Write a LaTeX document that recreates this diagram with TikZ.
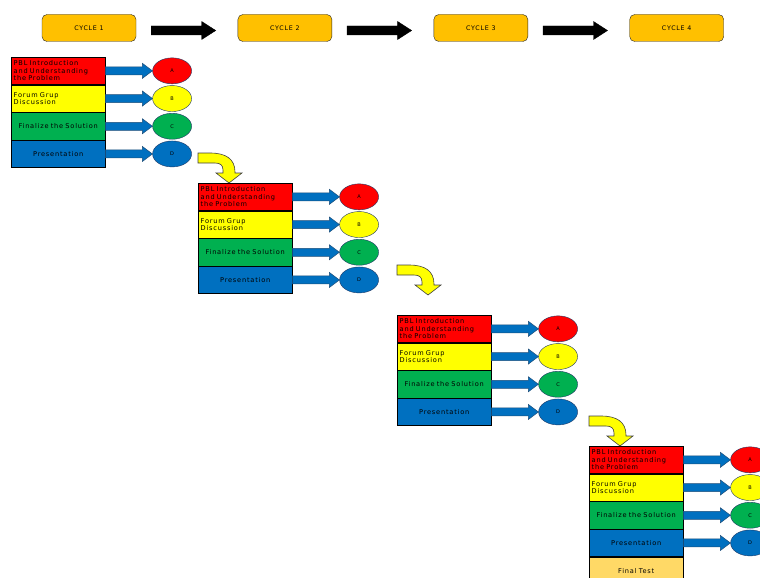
\documentclass[tikz,border=0pt]{standalone}
\usepackage{fontspec}
\usepackage{tikz}
\usetikzlibrary{positioning,shapes.geometric,calc}
\newfontfamily\diagfont[LetterSpace=12]{DejaVu Sans}
\definecolor{cycfill}{HTML}{FFC000}
\definecolor{pblred}{HTML}{FF0000}
\definecolor{forumyel}{HTML}{FFFF00}
\definecolor{fingreen}{HTML}{00B050}
\definecolor{presblue}{HTML}{0070C0}
\definecolor{testorange}{HTML}{FFD966}
\definecolor{navyline}{HTML}{1F3864}
\definecolor{arrowline}{HTML}{1F4E79}
% horizontal block arrow: style, from, to, shaft half, head half, head length
\newcommand{\fatarrow}[6]{%
  \path[#1] let \p1=(#2), \p2=(#3) in
    (\x1,\y1+#4) -- (\x2-#6,\y1+#4) -- (\x2-#6,\y1+#5) -- (\x2,\y1)
    -- (\x2-#6,\y1-#5) -- (\x2-#6,\y1-#4) -- (\x1,\y1-#4) -- cycle;}

\begin{document}
\begin{tikzpicture}[x=1pt, y=-1pt,
  cyc/.style={draw=black!85, fill=cycfill, rounded corners=5pt, minimum width=94pt, minimum height=27pt, font=\diagfont\fontsize{6.3}{7}\selectfont},
  row/.style={draw=black, minimum width=94pt, minimum height=27.3pt, inner sep=0pt, text width=89pt, font=\diagfont\fontsize{6.6}{7.6}\selectfont},
  lft/.style={row, align=left},
  ctr/.style={row, align=center},
  circ/.style={ellipse, draw=navyline, minimum width=39pt, minimum height=26pt, inner sep=0pt, font=\diagfont\fontsize{5}{5}\selectfont},
  bluearrow/.style={fill=presblue, draw=arrowline, line width=0.5pt},
  blackarrow/.style={fill=black, draw=black},
  bentarrow/.style={fill=forumyel, draw=black!75, line width=0.6pt}]
\useasboundingbox (0,0) rectangle (760,578);
\clip (0,0) rectangle (760,578);
% cycles along the top
\node[cyc] (cyc1) at (89,28) {CYCLE 1};
\node[cyc, right=101.5pt of cyc1] (cyc2) {CYCLE 2};
\node[cyc, right=101.5pt of cyc2] (cyc3) {CYCLE 3};
\node[cyc, right=101.5pt of cyc3] (cyc4) {CYCLE 4};
\foreach \a/\b in {cyc1/cyc2, cyc2/cyc3, cyc3/cyc4}
  \fatarrow{blackarrow}{[xshift=15pt,yshift=-2.5pt]\a.east}{[xshift=-22pt,yshift=-2.5pt]\b.west}{4.5pt}{9pt}{14pt};
% one stack of steps per cycle
\foreach \bx/\by [count=\k] in {11/57, 198/183, 397/315, 589/446} {
  \node[lft, fill=pblred, anchor=north west] (pbl\k) at (\bx,\by) {PBL Introduction\\and Understanding\\the Problem};
  \node[lft, fill=forumyel, below=0pt of pbl\k] (forum\k) {Forum Grup\\Discussion};
  \node[ctr, fill=fingreen, below=0pt of forum\k] (fin\k) {Finalize the Solution};
  \node[ctr, fill=presblue, below=0pt of fin\k] (pres\k) {Presentation};
  \node[circ, fill=pblred, right=47pt of pbl\k] (ca\k) {A};
  \node[circ, fill=forumyel, right=47pt of forum\k] (cb\k) {B};
  \node[circ, fill=fingreen, right=47pt of fin\k] (cc\k) {C};
  \node[circ, fill=presblue, right=47pt of pres\k] (cd\k) {D};
  \fatarrow{bluearrow}{pbl\k.east}{ca\k.west}{4pt}{7.5pt}{10pt};
  \fatarrow{bluearrow}{forum\k.east}{cb\k.west}{4pt}{7.5pt}{10pt};
  \fatarrow{bluearrow}{fin\k.east}{cc\k.west}{4pt}{7.5pt}{10pt};
  \fatarrow{bluearrow}{pres\k.east}{cd\k.west}{4pt}{7.5pt}{10pt};
}
\node[ctr, fill=testorange, below=0pt of pres4] (test4) {Final Test};
% bent arrows leading to the next cycle
\foreach \ax/\ay in {198/153, 397/265, 589/416} {
  \begin{scope}[shift={(\ax,\ay)}]
    \path[bentarrow] (0,0) -- (12,0) .. controls (28,0) and (37,6) .. (37,19) -- (37,20)
      -- (44,20) -- (31,30) -- (18,20) -- (25,20) -- (25,17) .. controls (25,12) and (22,10) .. (17,10)
      -- (0,10) -- cycle;
  \end{scope}
}
\end{tikzpicture}
\end{document}
